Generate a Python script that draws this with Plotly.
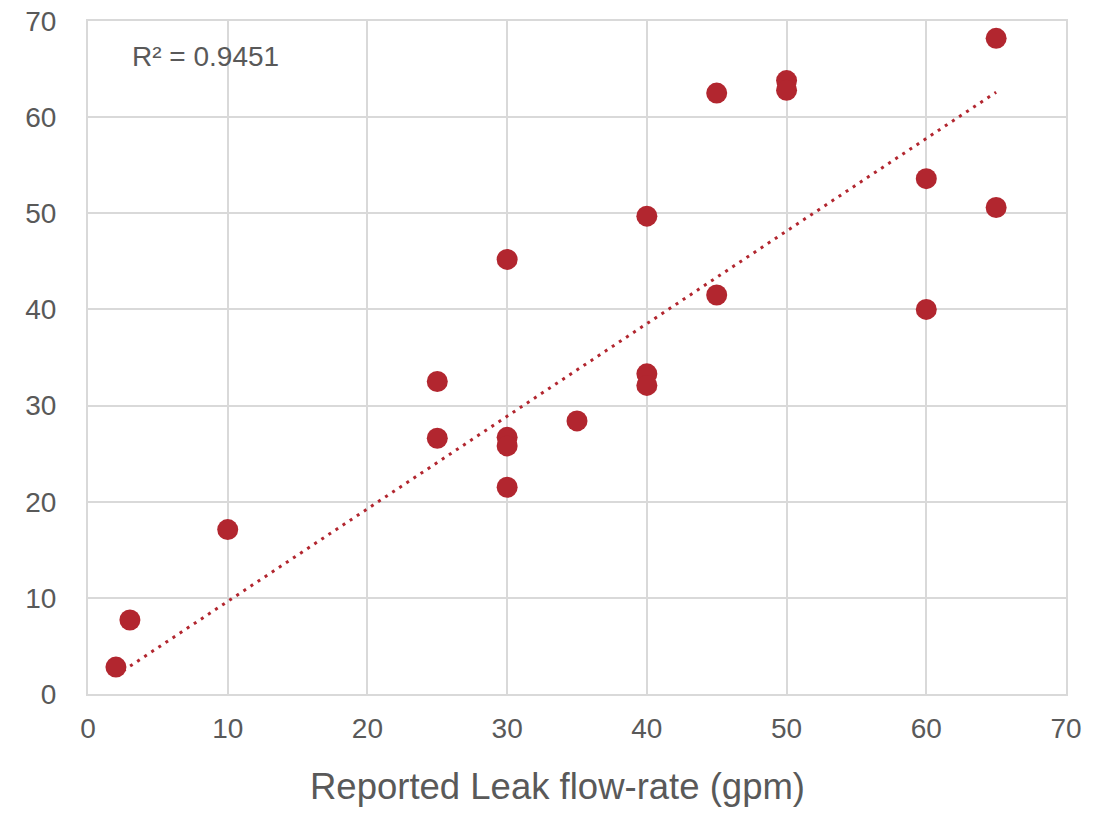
import plotly.graph_objects as go

reported_gpm = [2, 3, 10, 25, 25, 30, 30, 30, 30, 35, 40, 40, 40, 45, 45, 50, 50, 60, 60, 65, 65]
measured = [2.8, 7.7, 17.1, 32.5, 26.6, 45.2, 26.7, 25.8, 21.5, 28.4, 49.7, 33.3, 32.1,
            62.5, 41.5, 63.8, 62.8, 53.6, 40.0, 68.2, 50.6]
# trendline (linear, through origin)
trend_x = [2, 65]
trend_slope = 0.963
x_ticks = [0, 10, 20, 30, 40, 50, 60, 70]
y_ticks = [0, 10, 20, 30, 40, 50, 60, 70]
r2_label = "R² = 0.9451"
x_title = "Reported Leak flow-rate (gpm)"

RED = "#B2262F"
GRID = "#D9D9D9"
TXT = "#595959"
FONT = "Liberation Sans"

trend_y = [trend_slope * v for v in trend_x]

fig = go.Figure()
fig.add_trace(go.Scatter(x=trend_x, y=trend_y, mode="lines",
                         line=dict(color=RED, width=3, dash="3px,5.5px"),
                         hoverinfo="skip", showlegend=False))
fig.add_trace(go.Scatter(x=reported_gpm, y=measured, mode="markers",
                         marker=dict(color=RED, size=21, line=dict(width=0)),
                         showlegend=False))

fig.update_layout(
    width=1110, height=821,
    margin=dict(l=88, r=44, t=21, b=127),
    paper_bgcolor="white", plot_bgcolor="white",
    font=dict(family=FONT, color=TXT, size=24),
    xaxis=dict(range=[0, 70], tickvals=x_ticks, showgrid=True, gridcolor=GRID, gridwidth=1.5,
               showline=True, linecolor=GRID, linewidth=2, mirror=True, zeroline=False,
               automargin=False,
               ticks="", tickfont=dict(size=28, color=TXT, family=FONT), ticklabelstandoff=8),
    yaxis=dict(range=[0, 70], tickvals=y_ticks, showgrid=True, gridcolor=GRID, gridwidth=1.5,
               showline=True, linecolor=GRID, linewidth=2, mirror=True, zeroline=False,
               automargin=False,
               ticks="", tickfont=dict(size=28, color=TXT, family=FONT), ticklabelstandoff=24),
    annotations=[
        dict(text=r2_label, xref="paper", yref="paper", x=(130 - 88) / 978, y=(694 - 56) / 673,
             xanchor="left", yanchor="middle", showarrow=False,
             font=dict(size=28, color=TXT, family=FONT)),
        dict(text=x_title, xref="paper", yref="paper", x=(557 - 88) / 978, y=(694 - 786) / 673,
             xanchor="center", yanchor="middle", showarrow=False,
             font=dict(size=36.5, color=TXT, family=FONT)),
    ],
)

fig.write_html("out.html")
